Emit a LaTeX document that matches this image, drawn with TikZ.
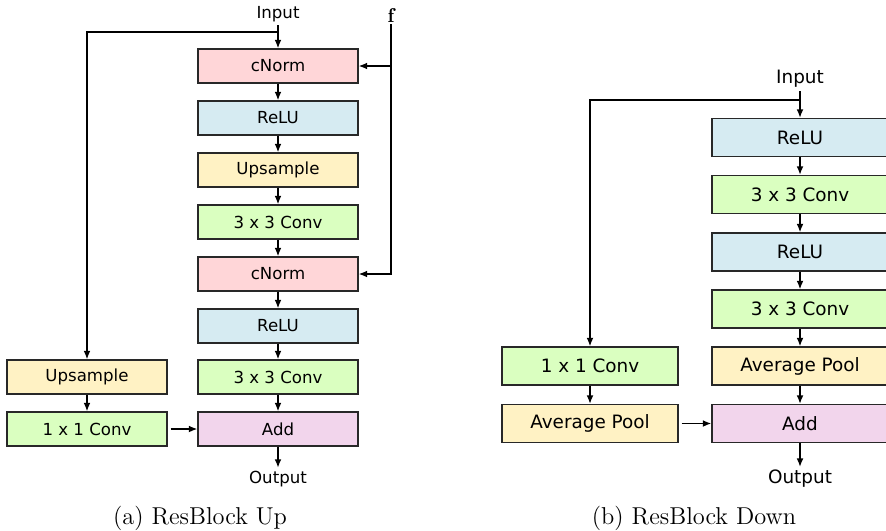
\documentclass[tikz,border=0pt]{standalone}
\usepackage{fontspec}
\setsansfont{DejaVu Sans}
\usepackage{amsmath}
\usepackage{amssymb}
\usetikzlibrary{arrows.meta}
\usetikzlibrary{calc}

\tikzset{
  blockA/.style={draw=r40g40b40, line width=0.7pt, rectangle, inner sep=0pt,
    minimum width=80pt, minimum height=17pt, font=\sffamily\fontsize{8.3}{10}\selectfont},
  blockB/.style={blockA, minimum width=88pt, minimum height=19pt,
    font=\sffamily\fontsize{9.2}{11}\selectfont},
  labelA/.style={inner sep=1.5pt, font=\sffamily\fontsize{8.3}{10}\selectfont},
  labelB/.style={inner sep=1.5pt, font=\sffamily\fontsize{9.2}{11}\selectfont},
  wire/.style={line width=0.7pt, draw=black},
  arrow/.style={wire, -{Latex[length=4.2pt,width=3.4pt]}},
  caption/.style={font=\fontsize{12.2}{14}\selectfont}
}

\begin{document}
\begin{tikzpicture}[x=0.5pt, y=-0.5pt]
                        % Frame of the page, in pixels of the sketch
                        \useasboundingbox (0,0) rectangle (886,530);

                        % Changing colors of the blocks
                        \definecolor{r40g40b40}{RGB}{40,40,40}%
                        \definecolor{r255g214b216}{RGB}{255,214,216}%
                        \definecolor{r214g235b242}{RGB}{214,235,242}%
                        \definecolor{r255g242b196}{RGB}{255,242,196}%
                        \definecolor{r218g255b192}{RGB}{218,255,192}%
                        \definecolor{r242g213b236}{RGB}{242,213,236}%

                        % ---------------- (a) ResBlock Up ----------------

                        % Input, output and conditioning vector
                        \node [labelA] (inA) at (278,14) {Input};
                        \node [labelA] (outA) at (278,479) {Output};
                        \node [inner sep=1pt, font=\fontsize{10}{12}\selectfont] (fA) at (391,15) {$\mathbf{f}$};

                        % Main column
                        \node [blockA, fill=r255g214b216] (cnormA1) at (278,66) {cNorm};
                        \node [blockA, fill=r214g235b242] (reluA1) at (278,118) {ReLU};
                        \node [blockA, fill=r255g242b196] (upA) at (278,170) {Upsample};
                        \node [blockA, fill=r218g255b192] (convA1) at (278,222) {3 x 3 Conv};
                        \node [blockA, fill=r255g214b216] (cnormA2) at (278,274) {cNorm};
                        \node [blockA, fill=r214g235b242] (reluA2) at (278,326) {ReLU};
                        \node [blockA, fill=r218g255b192] (convA2) at (278,377) {3 x 3 Conv};
                        \node [blockA, fill=r242g213b236] (addA) at (278,429) {Add};

                        % Skip column
                        \node [blockA, fill=r255g242b196] (upSkipA) at (87,377) {Upsample};
                        \node [blockA, fill=r218g255b192] (convSkipA) at (87,429) {1 x 1 Conv};

                        % Drawing arrows of the main column
                        \draw [arrow] (inA) -- (cnormA1);
                        \draw [arrow] (cnormA1) -- (reluA1);
                        \draw [arrow] (reluA1) -- (upA);
                        \draw [arrow] (upA) -- (convA1);
                        \draw [arrow] (convA1) -- (cnormA2);
                        \draw [arrow] (cnormA2) -- (reluA2);
                        \draw [arrow] (reluA2) -- (convA2);
                        \draw [arrow] (convA2) -- (addA);
                        \draw [arrow] (addA) -- (outA);

                        % Drawing the skip path
                        \coordinate (splitA) at (278,32);
                        \draw [arrow] (splitA) -| (upSkipA);
                        \draw [arrow] (upSkipA) -- (convSkipA);
                        \draw [arrow] ($(convSkipA.east)+(3,0)$) -- (addA);

                        % Drawing the conditioning path
                        \coordinate (forkA) at (391,66);
                        \draw [arrow] (fA) |- (cnormA2);
                        \draw [arrow] (forkA) -- (cnormA1);

                        \node [caption] (capA) at (200,518) {(a) ResBlock Up};

                        % ---------------- (b) ResBlock Down ----------------

                        % Input and output
                        \node [labelB] (inB) at (800,79) {Input};
                        \node [labelB] (outB) at (800,479) {Output};

                        % Main column
                        \node [blockB, fill=r214g235b242] (reluB1) at (800,137.5) {ReLU};
                        \node [blockB, fill=r218g255b192] (convB1) at (800,194.5) {3 x 3 Conv};
                        \node [blockB, fill=r214g235b242] (reluB2) at (800,252) {ReLU};
                        \node [blockB, fill=r218g255b192] (convB2) at (800,309) {3 x 3 Conv};
                        \node [blockB, fill=r255g242b196] (poolB) at (800,366) {Average Pool};
                        \node [blockB, fill=r242g213b236] (addB) at (800,423.5) {Add};

                        % Skip column
                        \node [blockB, fill=r218g255b192] (convSkipB) at (590,366) {1 x 1 Conv};
                        \node [blockB, fill=r255g242b196] (poolSkipB) at (590,423.5) {Average Pool};

                        % Drawing arrows of the main column
                        \draw [arrow] (inB) -- (reluB1);
                        \draw [arrow] (reluB1) -- (convB1);
                        \draw [arrow] (convB1) -- (reluB2);
                        \draw [arrow] (reluB2) -- (convB2);
                        \draw [arrow] (convB2) -- (poolB);
                        \draw [arrow] (poolB) -- (addB);
                        \draw [arrow] (addB) -- (outB);

                        % Drawing the skip path
                        \coordinate (splitB) at (800,100);
                        \draw [arrow] (splitB) -| (convSkipB);
                        \draw [arrow] (convSkipB) -- (poolSkipB);
                        \draw [arrow] ($(poolSkipB.east)+(3,0)$) -- (addB);

                        \node [caption] (capB) at (694,518) {(b) ResBlock Down};
\end{tikzpicture}
\end{document}
